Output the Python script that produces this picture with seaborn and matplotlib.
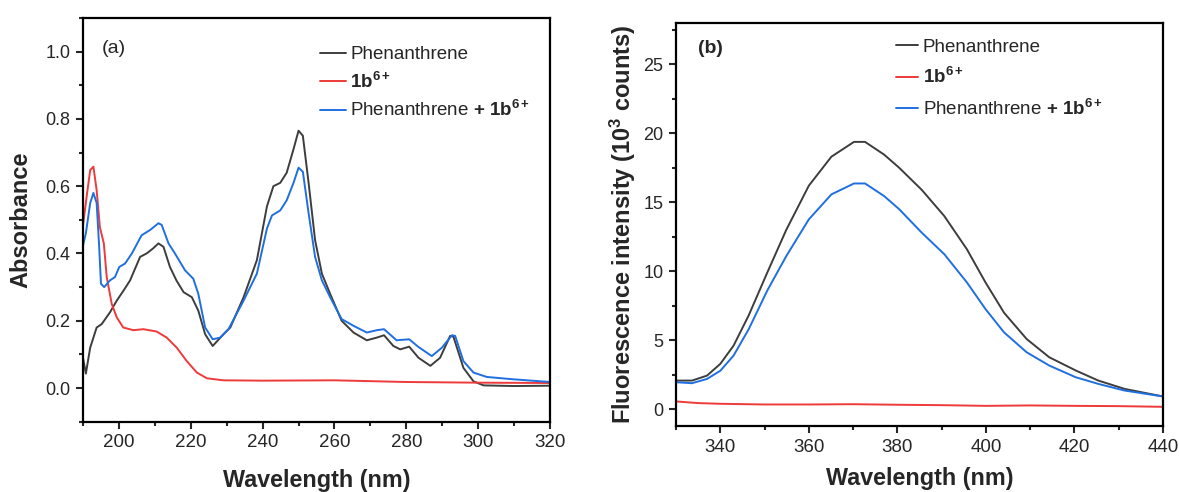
import matplotlib
matplotlib.use("Agg")
from matplotlib import pyplot as plt
from matplotlib.ticker import MultipleLocator
import pandas as pd
import seaborn as sns

##### UV-vis absorbance (panel a)
abs_phen_x = [190, 190.8, 192, 193.8, 195.2, 197.5, 199.4, 201.3, 203.1, 205.9, 207.7, 209.5, 211, 212.4,
              214.2, 216, 218, 220.3, 222.1, 224, 226.1, 229.1, 231, 234.7, 238.4, 241.2, 243, 244.9,
              246.7, 248.6, 250, 251.2, 252.8, 254.6, 256.5, 258.8, 262, 265.3, 269, 271.8, 273.8,
              276.4, 278.3, 280.8, 283.4, 286.7, 289.4, 292.2, 293.1, 295.9, 298.7, 301.5, 310, 320]
abs_phen_y = [0.09, 0.043, 0.12, 0.18, 0.19, 0.225, 0.26, 0.29, 0.32, 0.39, 0.40, 0.415, 0.43, 0.42,
              0.36, 0.32, 0.285, 0.27, 0.23, 0.16, 0.125, 0.16, 0.18, 0.27, 0.38, 0.54, 0.60, 0.61,
              0.64, 0.71, 0.765, 0.75, 0.61, 0.44, 0.34, 0.28, 0.20, 0.165, 0.142, 0.15, 0.157,
              0.125, 0.115, 0.123, 0.09, 0.066, 0.09, 0.155, 0.153, 0.06, 0.02, 0.008, 0.006, 0.007]

abs_1b_x = [190, 191, 192, 192.9, 193.8, 194.7, 195.8, 196.6, 198, 199.4, 201.2, 204, 206.8, 210.5,
            213.3, 216.1, 218.9, 221.7, 224.5, 229.1, 240, 260, 280, 300, 320]
abs_1b_y = [0.484, 0.568, 0.648, 0.658, 0.588, 0.478, 0.43, 0.33, 0.25, 0.21, 0.18, 0.172, 0.175, 0.168,
            0.15, 0.12, 0.08, 0.046, 0.029, 0.023, 0.022, 0.023, 0.018, 0.016, 0.015]

abs_mix_x = [190, 190.8, 192, 192.9, 193.8, 194.5, 195, 195.9, 197.5, 198.9, 200.1, 201.7, 203.6, 206.3,
             208.7, 211, 211.9, 213.8, 215.6, 218.4, 220.7, 222.1, 224, 226.1, 228.2, 230.5, 234.7,
             238.4, 241.2, 242.6, 244.9, 246.7, 248.6, 250, 251.2, 252.8, 254.6, 256.5, 258.8, 262,
             265.3, 269, 271.8, 273.8, 277.3, 280.8, 283.4, 287.1, 289.9, 292.7, 293.6, 295.9, 298.7,
             302.4, 309.8, 320]
abs_mix_y = [0.424, 0.46, 0.55, 0.58, 0.55, 0.42, 0.31, 0.30, 0.32, 0.33, 0.36, 0.37, 0.40, 0.454,
             0.47, 0.49, 0.485, 0.43, 0.40, 0.35, 0.325, 0.28, 0.18, 0.145, 0.15, 0.175, 0.26,
             0.34, 0.474, 0.513, 0.528, 0.558, 0.61, 0.655, 0.643, 0.52, 0.39, 0.32, 0.27, 0.205,
             0.185, 0.165, 0.172, 0.175, 0.142, 0.145, 0.122, 0.095, 0.12, 0.157, 0.155, 0.08, 0.046,
             0.033, 0.026, 0.018]

##### Fluorescence (panel b), 10^3 counts
fl_x = [330, 333.6, 337, 340, 343, 346.4, 350.6, 354.9, 360, 365.1, 370.2, 372.7, 377, 380.4,
        385.5, 390.6, 395.7, 399.9, 404.1, 409.2, 414.3, 420.3, 425.4, 431.3, 440]
fl_phen = [2.09, 2.09, 2.45, 3.3, 4.62, 6.8, 9.9, 13.0, 16.2, 18.3, 19.37, 19.37, 18.45, 17.5,
           15.9, 14.0, 11.6, 9.2, 7.0, 5.1, 3.78, 2.82, 2.09, 1.49, 0.94]
fl_mix = [1.97, 1.9, 2.21, 2.8, 3.9, 5.8, 8.6, 11.1, 13.76, 15.57, 16.36, 16.36, 15.45, 14.5,
          12.8, 11.24, 9.2, 7.27, 5.58, 4.14, 3.18, 2.33, 1.85, 1.37, 0.94]
fl_1b_x = [330, 335, 340, 350, 360, 370, 380, 390, 400, 410, 420, 430, 440]
fl_1b = [0.58, 0.46, 0.41, 0.36, 0.36, 0.38, 0.34, 0.31, 0.26, 0.29, 0.26, 0.24, 0.19]

names = ["Phenanthrene", r"$\mathbf{1b^{6+}}$", r"Phenanthrene $\mathbf{+\ 1b^{6+}}$"]
colors = {names[0]: "#3d3d3d", names[1]: "#ee3a3a", names[2]: "#1f6fe0"}

abs_df = pd.concat([
    pd.DataFrame({"wl": abs_phen_x, "val": abs_phen_y, "series": names[0]}),
    pd.DataFrame({"wl": abs_1b_x, "val": abs_1b_y, "series": names[1]}),
    pd.DataFrame({"wl": abs_mix_x, "val": abs_mix_y, "series": names[2]}),
])
fl_df = pd.concat([
    pd.DataFrame({"wl": fl_x, "val": fl_phen, "series": names[0]}),
    pd.DataFrame({"wl": fl_1b_x, "val": fl_1b, "series": names[1]}),
    pd.DataFrame({"wl": fl_x, "val": fl_mix, "series": names[2]}),
])

sns.set_style("ticks")
plt.rcParams["font.family"] = ["Liberation Sans", "DejaVu Sans"]
plt.rcParams["mathtext.fontset"] = "custom"
plt.rcParams["mathtext.rm"] = "Liberation Sans"
plt.rcParams["mathtext.bf"] = "Liberation Sans:bold"
plt.rcParams["mathtext.it"] = "Liberation Sans:italic"

fig = plt.figure(figsize=(11.79, 4.92), dpi=100)
ax1 = fig.add_axes([0.0704, 0.1429, 0.3961, 0.8205])
ax2 = fig.add_axes([0.5734, 0.1341, 0.4130, 0.8198])

sns.lineplot(data=abs_df, x="wl", y="val", hue="series", palette=colors, hue_order=names,
             estimator=None, sort=False, linewidth=1.4, ax=ax1)
sns.lineplot(data=fl_df, x="wl", y="val", hue="series", palette=colors, hue_order=names,
             estimator=None, sort=False, linewidth=1.4, ax=ax2)

##### axes styling, like an Origin plot
for ax in (ax1, ax2):
    for s in ax.spines.values():
        s.set_linewidth(1.6)
        s.set_color("black")
    ax.tick_params(which="major", direction="out", length=5, width=1.5, labelsize=13, pad=4,
                   top=False, right=False)
    ax.tick_params(axis="x", labelsize=13.5)
    ax.tick_params(which="minor", direction="out", length=3, width=1.5)

ax1.set_xlim(190, 320)
ax1.set_ylim(-0.1, 1.1)
ax1.xaxis.set_minor_locator(MultipleLocator(10))
ax1.yaxis.set_minor_locator(MultipleLocator(0.1))
ax1.set_xticks([200, 220, 240, 260, 280, 300, 320])
ax1.set_yticks([0.0, 0.2, 0.4, 0.6, 0.8, 1.0])
ax1.set_yticklabels(["0.0", "0.2", "0.4", "0.6", "0.8", "1.0"])
ax1.set_xlabel("Wavelength (nm)", fontsize=16.8, fontweight="bold", labelpad=13)
ax1.set_ylabel("Absorbance", fontsize=17, fontweight="bold", labelpad=9)
ax1.text(0.04, 0.925, "(a)", transform=ax1.transAxes, fontsize=14, ha="left", va="center")

ax2.set_xlim(330, 440)
ax2.set_ylim(-1.2, 28)
ax2.set_xticks([340, 360, 380, 400, 420, 440])
ax2.xaxis.set_minor_locator(MultipleLocator(10))
ax2.set_yticks([0, 5, 10, 15, 20, 25])
ax2.yaxis.set_minor_locator(MultipleLocator(2.5))
ax2.set_xlabel("Wavelength (nm)", fontsize=16.8, fontweight="bold", labelpad=8)
ax2.set_ylabel(r"Fluorescence intensity ($\mathbf{10^3}$ counts)", fontsize=17,
               fontweight="bold", labelpad=4)
ax2.text(0.045, 0.937, "(b)", transform=ax2.transAxes, fontsize=14, fontweight="bold",
         ha="left", va="center")

##### legends
ax1.legend(frameon=False, fontsize=13.5, handlelength=1.35, handletextpad=0.25,
           labelspacing=0.45, loc="upper left", bbox_to_anchor=(0.472, 0.972))
ax2.legend(frameon=False, fontsize=13.5, handlelength=1.15, handletextpad=0.25,
           labelspacing=0.6, loc="upper left", bbox_to_anchor=(0.418, 1.002))

plt.savefig("out.png", dpi=100)
